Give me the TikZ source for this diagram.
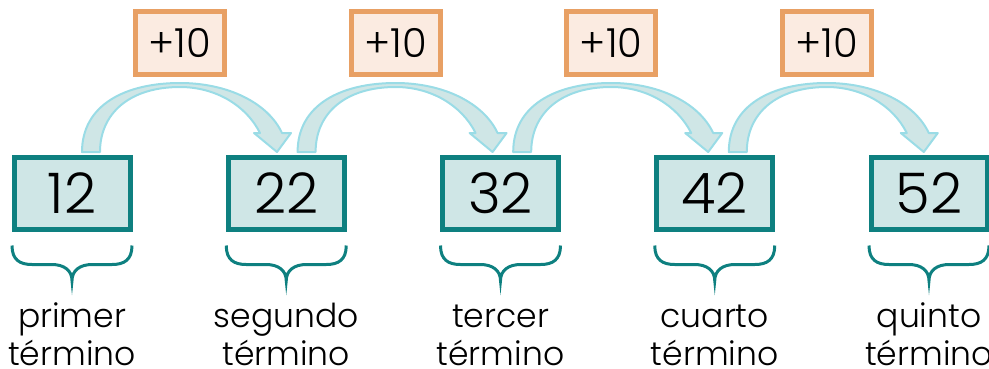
\documentclass[tikz,border=0pt]{standalone}
\usepackage{fontspec}
\setmainfont{Poppins}[UprightFont=* Light]
\usetikzlibrary{calc}
\definecolor{tealline}{HTML}{0E8080}
\definecolor{tealfill}{HTML}{CFE6E6}
\definecolor{orangeline}{HTML}{E8A064}
\definecolor{orangefill}{HTML}{FBEBE1}
\definecolor{jumpline}{HTML}{9ADCE6}
\tikzset{
  term/.style={draw=tealline,fill=tealfill,line width=5pt,minimum width=116pt,
    minimum height=72pt,inner sep=0pt,font=\fontsize{56}{60}\selectfont},
  sumbox/.style={draw=orangeline,fill=orangefill,line width=5pt,minimum width=89pt,
    minimum height=63pt,inner sep=0pt,font=\fontsize{40}{42}\selectfont},
  jump/.style={draw=jumpline,fill=tealfill,line width=2pt,line join=round},
  termbrace/.style={draw=tealline,line width=3pt},
  termname/.style={align=center,inner sep=0pt,font=\fontsize{33}{38}\selectfont}
}

\begin{document}
\begin{tikzpicture}[x=1pt,y=-1pt]
  \useasboundingbox (0,0) rectangle (989,368);
  \foreach \i/\val/\lbl in {1/12/primer,2/22/segundo,3/32/tercer,4/42/cuarto,5/52/quinto}{
    \node[term] (t\i) at ({72+214.25*(\i-1)},193.5) {\val};
    \draw[termbrace] ($(t\i.south)+(-60,13.5)$)
      .. controls +(0,14.5) and +(-12,0) .. ++(20,19) -- ++(20,0)
      .. controls +(12,0) and +(0,-10) .. ++(20,16)
      .. controls +(0,-10) and +(-12,0) .. ++(20,-16) -- ++(20,0)
      .. controls +(12,0) and +(0,14.5) .. ++(20,-19);
    \node[termname,anchor=base] (n\i) at ($(t\i.south)+(0,133.5)$) {\lbl\\término};
  }
  \foreach \i in {1,...,4}{
    \node[sumbox] (s\i) at ({180+215.6*(\i-1)},43) {+10};
    \begin{scope}[shift={(s\i.center)}]
      \draw[jump] (-98,109) .. controls (-98,62) and (-55,40) .. (0,40)
        .. controls (48,40) and (88,60) .. (102,90)
        -- (111,90) -- (97,109) -- (74,90) -- (80,90)
        .. controls (66,62) and (35,44) .. (0,44)
        .. controls (-50,44) and (-80,70) .. (-80,109) -- cycle;
    \end{scope}
  }
\end{tikzpicture}
\end{document}
